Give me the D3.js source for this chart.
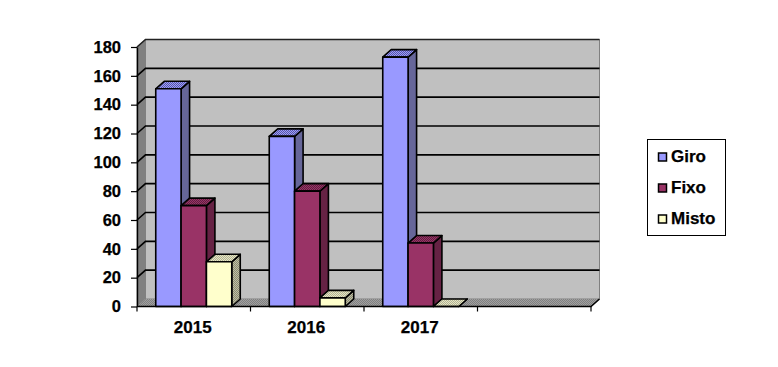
<!DOCTYPE html>
<html>
<head>
<meta charset="utf-8">
<script src="https://cdnjs.cloudflare.com/ajax/libs/d3/7.8.5/d3.min.js"></script>
<style>
  body { margin: 0; background: #fff; }
  svg { display: block; }
  text { font-family: "Liberation Sans", Arial, sans-serif; font-weight: 700; fill: #000; stroke: #000; stroke-width: 0.25px; }
</style>
</head>
<body>
<div id="chart"></div>
<script>
const years = ["2015", "2016", "2017", ""];
const seriesNames = ["Giro", "Fixo", "Misto"];
const giro = [151, 118, 173];
const fixo = [70, 80, 44];
const misto = [31, 6, 0];
const yTicks = [0, 20, 40, 60, 80, 100, 120, 140, 160, 180];
const seriesValues = [giro, fixo, misto];

const width = 778;
const height = 367;
const plot = { left: 137, right: 591, top: 47, bottom: 306.5 };
const depth = { x: 8.5, y: -7.5 };
const colors = {
  Giro: { front: "#9999ff", side: "#666699", top: "#7474c4" },
  Fixo: { front: "#993366", side: "#662244", top: "#7d2a54" },
  Misto: { front: "#ffffcc", side: "#a8a890", top: "#cfcfa8" }
};

const svg = d3.select("#chart").append("svg")
  .attr("width", width)
  .attr("height", height)
  .attr("viewBox", `0 0 ${width} ${height}`);

const defs = svg.append("defs");

function addDither(id, base, dark) {
  const pattern = defs.append("pattern")
    .attr("id", id)
    .attr("width", 2)
    .attr("height", 2)
    .attr("patternUnits", "userSpaceOnUse");
  pattern.append("rect").attr("width", 2).attr("height", 2).attr("fill", base);
  pattern.append("rect").attr("width", 1).attr("height", 1).attr("fill", dark);
  pattern.append("rect").attr("x", 1).attr("y", 1).attr("width", 1).attr("height", 1).attr("fill", dark);
}

addDither("top-Giro", "#9999ff", "#5a5aa0");
addDither("top-Fixo", "#993366", "#5f2040");
addDither("top-Misto", "#e8e8c0", "#b0b098");
addDither("side-Misto", "#c0c0a0", "#8a8a78");
addDither("floor", "#a0a0a0", "#808080");

const x = d3.scaleBand()
  .domain(years)
  .range([plot.left, plot.right]);

const xSeries = d3.scaleBand()
  .domain(seriesNames)
  .range([0, x.bandwidth()])
  .paddingInner(0)
  .paddingOuter(0.74);

const y = d3.scaleLinear()
  .domain([0, 180])
  .range([plot.bottom, plot.top]);

const line = d3.line();
const poly = (points) => line(points) + "Z";

// walls and floor
const walls = svg.append("g").attr("class", "walls");

walls.append("path")
  .attr("d", poly([
    [plot.left + depth.x, plot.top + depth.y],
    [plot.right + depth.x, plot.top + depth.y],
    [plot.right + depth.x, plot.bottom + depth.y],
    [plot.left + depth.x, plot.bottom + depth.y]
  ]))
  .attr("fill", "#c0c0c0")
  .attr("stroke", "#808080")
  .attr("stroke-width", 1);

walls.append("path")
  .attr("d", poly([
    [plot.left, plot.top],
    [plot.left + depth.x, plot.top + depth.y],
    [plot.left + depth.x, plot.bottom + depth.y],
    [plot.left, plot.bottom]
  ]))
  .attr("fill", "#808080")
  .attr("stroke", "#808080");

walls.append("path")
  .attr("d", poly([
    [plot.left, plot.bottom],
    [plot.left + depth.x, plot.bottom + depth.y],
    [plot.right + depth.x, plot.bottom + depth.y],
    [plot.right, plot.bottom]
  ]))
  .attr("fill", "url(#floor)");

// gridlines wrap around the side wall onto the back wall
walls.selectAll("path.grid")
  .data(yTicks.slice(1))
  .enter()
  .append("path")
  .attr("class", "grid")
  .attr("d", (d) => line([
    [plot.left, y(d)],
    [plot.left + depth.x, y(d) + depth.y],
    [plot.right + depth.x, y(d) + depth.y]
  ]))
  .attr("fill", "none")
  .attr("stroke", (d) => (d === 180 ? "#222" : "#000"))
  .attr("stroke-width", 1.6);

// bars
const barData = [];

years.slice(0, 3).forEach((year, yearIndex) => {
  seriesNames.forEach((name, seriesIndex) => {
    barData.push({ year, name, value: seriesValues[seriesIndex][yearIndex] });
  });
});

const bars = svg.append("g")
  .attr("class", "bars")
  .attr("stroke", "#000")
  .attr("stroke-width", 1.6)
  .attr("stroke-linejoin", "round")
  .selectAll("g")
  .data(barData)
  .enter()
  .append("g");

const barLeft = (d) => x(d.year) + xSeries(d.name);
const barRight = (d) => barLeft(d) + xSeries.bandwidth();

bars.append("path")
  .attr("d", (d) => poly([
    [barRight(d), y(d.value)],
    [barRight(d) + depth.x, y(d.value) + depth.y],
    [barRight(d) + depth.x, plot.bottom + depth.y],
    [barRight(d), plot.bottom]
  ]))
  .attr("fill", (d) => (d.name === "Misto" ? "url(#side-Misto)" : colors[d.name].side));

bars.append("path")
  .attr("d", (d) => poly([
    [barLeft(d), y(d.value)],
    [barLeft(d) + depth.x, y(d.value) + depth.y],
    [barRight(d) + depth.x, y(d.value) + depth.y],
    [barRight(d), y(d.value)]
  ]))
  .attr("fill", (d) => `url(#top-${d.name})`);

bars.filter((d) => d.value > 0)
  .append("rect")
  .attr("x", barLeft)
  .attr("y", (d) => y(d.value))
  .attr("width", xSeries.bandwidth())
  .attr("height", (d) => plot.bottom - y(d.value))
  .attr("fill", (d) => colors[d.name].front);

// floor front edge and right diagonal
svg.append("path")
  .attr("d", line([
    [plot.left, plot.bottom],
    [plot.right, plot.bottom],
    [plot.right + depth.x, plot.bottom + depth.y]
  ]))
  .attr("fill", "none")
  .attr("stroke", "#000")
  .attr("stroke-width", 1.6);

// axes
const yAxis = svg.append("g")
  .attr("transform", `translate(${plot.left},0)`)
  .call(d3.axisLeft(y).tickValues(yTicks).tickSize(6).tickPadding(10).tickSizeOuter(0))
  .call((g) => g.select(".domain").attr("stroke", "#000").attr("stroke-width", 1.4))
  .call((g) => g.selectAll("line").attr("stroke", "#000").attr("stroke-width", 1.2))
  .call((g) => g.selectAll("text")
    .attr("font-size", 16.5)
    .style("font-family", "'Liberation Sans', Arial, sans-serif")
    .style("font-weight", 700));

const xAxis = svg.append("g")
  .attr("transform", `translate(0,${plot.bottom})`)
  .call(d3.axisBottom(x).tickSize(0).tickPadding(14))
  .call((g) => g.select(".domain").remove())
  .call((g) => g.selectAll("text")
    .attr("font-size", 17)
    .attr("dx", -1)
    .style("font-family", "'Liberation Sans', Arial, sans-serif")
    .style("font-weight", 700));

xAxis.selectAll("line.band-tick")
  .data(years.concat("end"))
  .enter()
  .append("line")
  .attr("class", "band-tick")
  .attr("x1", (d) => (d === "end" ? plot.right : x(d)))
  .attr("x2", (d) => (d === "end" ? plot.right : x(d)))
  .attr("y1", 0)
  .attr("y2", 5)
  .attr("stroke", "#000")
  .attr("stroke-width", 1.2);

// legend
const legend = svg.append("g")
  .attr("transform", "translate(647,139)");

legend.append("rect")
  .attr("x", 0.5)
  .attr("y", 0.5)
  .attr("width", 78)
  .attr("height", 96)
  .attr("fill", "#fff")
  .attr("stroke", "#000")
  .attr("stroke-width", 1);

const legendY = d3.scalePoint()
  .domain(seriesNames)
  .range([18, 80]);

const legendItem = legend.selectAll("g")
  .data(seriesNames)
  .enter()
  .append("g")
  .attr("transform", (d) => `translate(0,${legendY(d)})`);

legendItem.append("rect")
  .attr("x", 11.5)
  .attr("y", -4)
  .attr("width", 8)
  .attr("height", 8)
  .attr("fill", (d) => colors[d].front)
  .attr("stroke", "#000")
  .attr("stroke-width", 1.5);

legendItem.append("text")
  .attr("x", 24)
  .attr("y", 5)
  .attr("font-size", 17)
  .text((d) => d);
</script>
</body>
</html>
